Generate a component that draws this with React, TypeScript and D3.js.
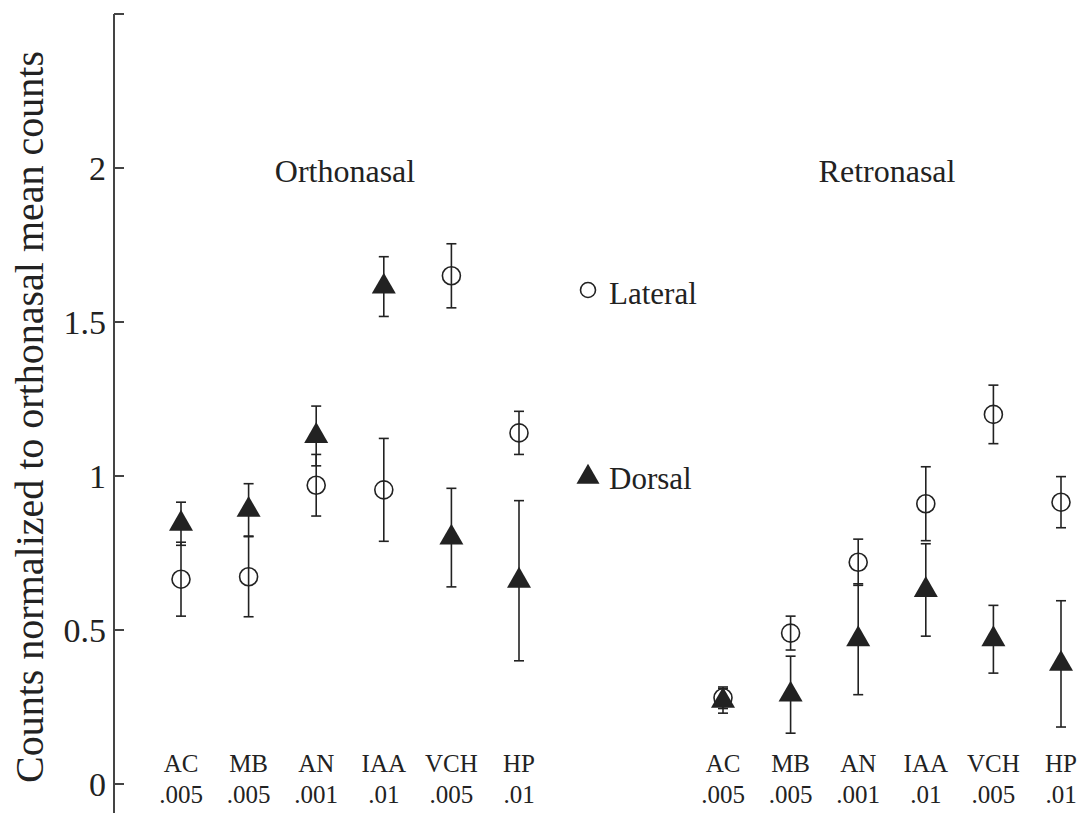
import React from "react";
import { scaleLinear, scalePoint, symbol, symbolTriangle } from "d3";

const categories = ["AC", "MB", "AN", "IAA", "VCH", "HP"];
const pLabels = [".005", ".005", ".001", ".01", ".005", ".01"];
const groups = ["Orthonasal", "Retronasal"];
const yTicks = [0, 0.5, 1, 1.5, 2, 2.5];

// orthonasal
const orthoLateral = [0.665, 0.673, 0.97, 0.955, 1.65, 1.14];
const orthoLateralErr = [0.12, 0.13, 0.1, 0.167, 0.104, 0.07];
const orthoDorsal = [0.845, 0.89, 1.13, 1.615, 0.8, 0.66];
const orthoDorsalErr = [0.07, 0.085, 0.097, 0.097, 0.16, 0.26];
// retronasal
const retroLateral = [0.28, 0.49, 0.72, 0.91, 1.2, 0.915];
const retroLateralErr = [0.035, 0.055, 0.075, 0.12, 0.095, 0.083];
const retroDorsal = [0.27, 0.29, 0.47, 0.63, 0.47, 0.39];
const retroDorsalErr = [0.04, 0.125, 0.18, 0.15, 0.11, 0.205];

const W = 1084;
const H = 813;
const ink = "#222";
const font = "Liberation Serif";

const App = () => {
  const y = scaleLinear().domain([0, 2.5]).range([784, 14]);
  const xGroup = scalePoint().domain(groups).range([181, 723]);
  const xCat = scalePoint().domain(categories).range([0, 338]);
  const tri = symbol().type(symbolTriangle).size(250)();
  const triLegend = symbol().type(symbolTriangle).size(230)();
  const axisX = 114;

  const series = [
    { g: "Orthonasal", lat: orthoLateral, latE: orthoLateralErr, dor: orthoDorsal, dorE: orthoDorsalErr },
    { g: "Retronasal", lat: retroLateral, latE: retroLateralErr, dor: retroDorsal, dorE: retroDorsalErr },
  ];

  const errBar = (cx: number, v: number, e: number, key: string) => (
    <g key={key} stroke={ink} strokeWidth={1.6}>
      <line x1={cx} x2={cx} y1={y(v - e)} y2={y(v + e)} />
      <line x1={cx - 5} x2={cx + 5} y1={y(v - e)} y2={y(v - e)} />
      <line x1={cx - 5} x2={cx + 5} y1={y(v + e)} y2={y(v + e)} />
    </g>
  );

  return (
    <svg width={W} height={H} style={{ position: "absolute", left: 0, top: 0, background: "#fff", fontFamily: font }}>
      <style>{`text { font-family: "Liberation Serif", serif; }`}</style>
      {/* y axis */}
      <line x1={axisX} x2={axisX} y1={y(2.5)} y2={H} stroke="#444" strokeWidth={2} />
      {yTicks.map((t) => (
        <g key={t}>
          <line x1={axisX} x2={axisX + 10} y1={y(t)} y2={y(t)} stroke="#444" strokeWidth={2} />
          {t < 2.5 && (
            <text x={106} y={y(t) + 12} textAnchor="end" fontSize={34} fill={ink}>
              {t}
            </text>
          )}
        </g>
      ))}
      <text
        transform="translate(43,417) rotate(-90)"
        textAnchor="middle"
        fontSize={40}
        fill={ink}
        textLength={732}
        lengthAdjust="spacingAndGlyphs"
      >
        Counts normalized to orthonasal mean counts
      </text>

      {/* group titles */}
      {groups.map((g) => (
        <text key={g} x={(xGroup(g) as number) + 164} y={182} textAnchor="middle" fontSize={32} fill={ink}>
          {g}
        </text>
      ))}

      {/* category labels */}
      {groups.map((g) =>
        categories.map((c, i) => {
          const cx = (xGroup(g) as number) + (xCat(c) as number);
          return (
            <g key={g + c} fontSize={25} fill={ink} textAnchor="middle">
              <text x={cx} y={772}>{c}</text>
              <text x={cx} y={803}>{pLabels[i]}</text>
            </g>
          );
        })
      )}

      {/* data */}
      {series.map((s) =>
        categories.map((c, i) => {
          const cx = (xGroup(s.g) as number) + (xCat(c) as number);
          return (
            <g key={s.g + c}>
              {errBar(cx, s.lat[i], s.latE[i], "l")}
              {errBar(cx, s.dor[i], s.dorE[i], "d")}
              <circle cx={cx} cy={y(s.lat[i])} r={9} fill="none" stroke={ink} strokeWidth={1.6} />
              <path d={tri as string} transform={`translate(${cx},${y(s.dor[i])})`} fill={ink} />
            </g>
          );
        })
      )}

      {/* legend */}
      <circle cx={588} cy={290} r={7.5} fill="none" stroke={ink} strokeWidth={1.6} />
      <text x={609} y={304} fontSize={31} fill={ink}>Lateral</text>
      <path d={triLegend as string} transform="translate(588,477)" fill={ink} />
      <text x={609} y={489} fontSize={31} fill={ink}>Dorsal</text>
    </svg>
  );
};

export default App;
